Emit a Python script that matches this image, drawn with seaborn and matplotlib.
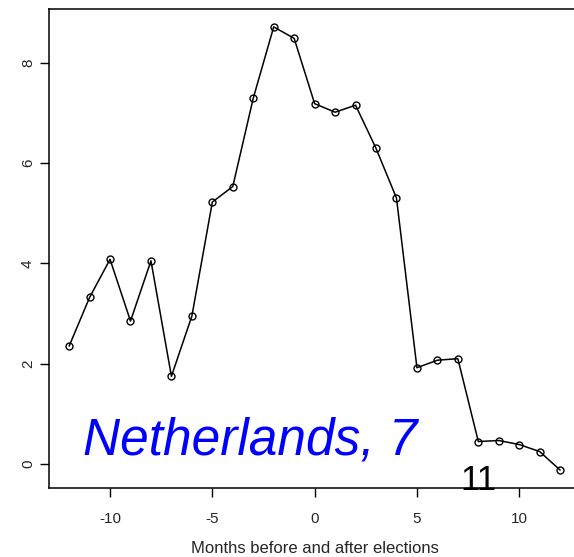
import matplotlib
matplotlib.use("Agg")
import matplotlib.pyplot as plt
import seaborn as sns
import pandas as pd

months = [-12, -11, -10, -9, -8, -7, -6, -5, -4, -3, -2, -1,
          0, 1, 2, 3, 4, 5, 6, 7, 8, 9, 10, 11, 12]
values = [2.35, 3.32, 4.08, 2.85, 4.05, 1.75, 2.95, 5.22, 5.53, 7.29, 8.71, 8.48,
          7.18, 7.01, 7.15, 6.29, 5.30, 1.92, 2.07, 2.10, 0.45, 0.47, 0.39, 0.25, -0.12]
x_ticks = [-10, -5, 0, 5, 10]
y_ticks = [0, 2, 4, 6, 8]

sns.set_theme(style="white")
plt.rcParams["font.family"] = ["Liberation Sans", "DejaVu Sans"]

df = pd.DataFrame({"month": months, "value": values})

fig = plt.figure(figsize=(5.74, 5.57), dpi=100)
ax = fig.add_axes([0.0862, 0.1244, 0.9239, 0.8589])

sns.lineplot(data=df, x="month", y="value", ax=ax, color="black", linewidth=1.1,
             marker="o", markersize=5, markerfacecolor="none",
             markeredgecolor="black", markeredgewidth=1.0)

ax.set_xlim(-12.96, 12.96)
ax.set_ylim(-0.47, 9.06)
ax.set_xticks(x_ticks)
ax.set_xticklabels([str(v) for v in x_ticks], fontsize=11)
ax.set_yticks(y_ticks)
ax.set_yticklabels([str(v) for v in y_ticks], fontsize=11, rotation=90, va="center")
ax.tick_params(axis="both", direction="out", length=6.5, width=1.0, color="black",
               bottom=True, left=True)
ax.tick_params(axis="x", pad=11)
ax.tick_params(axis="y", pad=4)

for side in ["left", "bottom", "top"]:
    ax.spines[side].set_visible(True)
    ax.spines[side].set_color("black")
    ax.spines[side].set_linewidth(1.1)
ax.spines["right"].set_visible(False)

ax.set_xlabel("Months before and after elections", fontsize=12, labelpad=11)
ax.set_ylabel("")

ax.text(-11.3, 0.2, "Netherlands, 7", color="blue", fontsize=37, style="italic",
        ha="left", va="baseline")
ax.text(8.02, -0.52, "11", color="black", fontsize=25, ha="center", va="baseline")

fig.savefig("out.png", dpi=100)
